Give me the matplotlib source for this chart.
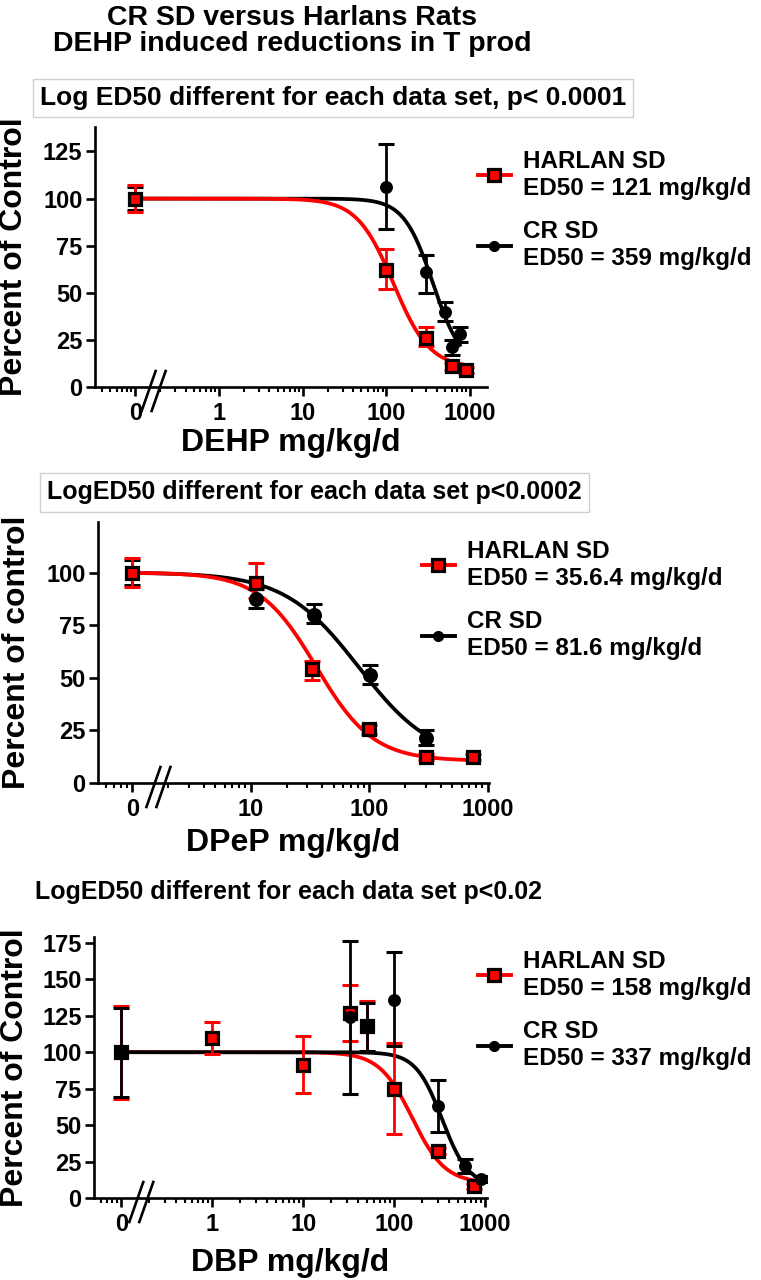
import numpy as np
import matplotlib
matplotlib.use("Agg")
import matplotlib.pyplot as plt
from matplotlib.lines import Line2D
from matplotlib.ticker import LogLocator, NullFormatter, FixedLocator, FixedFormatter

plt.rcParams["font.family"] = ["Liberation Sans", "DejaVu Sans"]
plt.rcParams["font.weight"] = "bold"
plt.rcParams["axes.labelweight"] = "bold"
plt.rcParams["axes.linewidth"] = 1.9

W, H = 761, 1280
NARROW = ["Liberation Sans Narrow", "Liberation Sans", "DejaVu Sans"]

# ---- DEHP ----
dehp_h_dose = [0, 100, 300, 600, 900]
dehp_h_mean = [100, 62, 26, 11, 9]
dehp_h_lo = [93, 52, 22, 9, 7.5]
dehp_h_hi = [107, 73, 32, 13, 10.5]
dehp_c_dose = [0, 100, 300, 500, 600, 750]
dehp_c_mean = [100, 106, 61, 40, 21, 28]
dehp_c_lo = [94, 84, 50, 35, 17, 24]
dehp_c_hi = [106, 129, 70, 45, 25, 32]
dehp_h_fit = [100, 10, 121, 2.0]   # top, bottom, ED50, hill
dehp_c_fit = [100, 10, 359, 2.5]

# ---- DPeP ----
dpep_h_dose = [0, 11, 33, 100, 300, 750]
dpep_h_mean = [100, 95, 54, 25.5, 12.5, 12.5]
dpep_h_lo = [93, 88, 49, 23.5, 11, 11]
dpep_h_hi = [107, 104.5, 58, 27.5, 14, 14]
dpep_c_dose = [0, 11, 34, 102, 300]
dpep_c_mean = [100, 87.5, 80, 51.5, 21.5]
dpep_c_lo = [94, 83, 76, 47, 18]
dpep_c_hi = [106, 92, 85, 56, 25]
dpep_h_fit = [100, 10.5, 35.6, 1.8]
dpep_c_fit = [100, 10, 81.6, 1.38]

# ---- DBP ----
dbp_h_dose = [0, 1, 10, 33, 50, 100, 300, 750]
dbp_h_mean = [100, 110, 91, 127, 118, 75, 32, 8]
dbp_h_lo = [68, 99, 72, 108, 101, 44, 30, 6.5]
dbp_h_hi = [132, 121, 111, 146, 135, 106, 34, 9.5]
dbp_c_dose = [0, 33, 50, 100, 300, 600, 900]
dbp_c_mean = [100, 124, 118, 136, 63, 22, 13]
dbp_c_lo = [69, 71, 101, 104, 45, 17, 11]
dbp_c_hi = [130, 176, 134, 169, 81, 27, 15]
dbp_h_fit = [100, 10, 158, 2.4]
dbp_c_fit = [100, 8, 337, 3.0]


def logistic(x, p):
    top, bottom, ed50, hill = p
    return bottom + (top - bottom) / (1 + (x / ed50) ** hill)


def rect(left, right, top, bottom):
    return [left / W, 1 - bottom / H, (right - left) / W, (bottom - top) / H]


def fx(px):
    return px / W


def fy(py):
    return 1 - py / H


def draw_series(ax, dose, mean, lo, hi, fit, zero_pos, color, marker, ms, xend):
    dose = np.array(dose, float)
    mean = np.array(mean, float)
    xp = np.where(dose == 0, zero_pos, dose)
    xc = np.logspace(np.log10(zero_pos), np.log10(xend), 300)
    ax.plot(xc, logistic(xc, fit), color=color, lw=2.7, zorder=2)
    yerr = [mean - np.array(lo), np.array(hi) - mean]
    ax.errorbar(xp, mean, yerr=yerr, fmt="none", ecolor=color, elinewidth=2.0,
                capsize=6, capthick=2.2, zorder=3)
    ax.plot(xp, mean, ls="none", marker=marker, ms=ms, mfc=color, mec="black",
            mew=2.3, zorder=4)


def style_axis(ax, xlim, ylim, yticks, xticks, zero_pos, axw, axh):
    ax.set_xscale("log")
    ax.set_xlim(xlim)
    ax.set_ylim(ylim)
    ax.spines["top"].set_visible(False)
    ax.spines["right"].set_visible(False)
    ax.set_yticks(yticks)
    ax.xaxis.set_major_locator(FixedLocator([zero_pos] + xticks))
    ax.xaxis.set_major_formatter(FixedFormatter(["0"] + [str(t) for t in xticks]))
    ax.xaxis.set_minor_locator(LogLocator(base=10, subs=np.arange(2, 10), numticks=20))
    ax.xaxis.set_minor_formatter(NullFormatter())
    ax.tick_params(axis="both", which="major", direction="out", length=6.5, width=1.9,
                   labelsize=17, pad=2.5)
    ax.tick_params(axis="x", which="minor", direction="out", length=3.5, width=1.5)
    ax.tick_params(axis="x", which="major", pad=4)
    # axis break marks "//"
    lx0, lx1 = np.log10(xlim[0]), np.log10(xlim[1])
    cx = (np.log10(zero_pos) + 0.22 - lx0) / (lx1 - lx0)
    for off in (-5, 5):
        xs = [cx + (off - 7) / axw, cx + (off + 7) / axw]
        ys = [-24 / axh, 16 / axh]
        ax.plot(xs, ys, color="black", lw=1.9, transform=ax.transAxes, clip_on=False)


def add_legend(ax, labels, x, y, spacing):
    handles = [
        Line2D([], [], color="red", lw=2.8, marker="s", ms=8.5, mfc="red", mec="black", mew=2.3),
        Line2D([], [], color="black", lw=2.8, marker="o", ms=7, mfc="black", mec="black"),
    ]
    ax.legend(handles, labels, loc="upper left", bbox_to_anchor=(fx(x), fy(y)),
              bbox_transform=ax.figure.transFigure, frameon=False, fontsize=17.5,
              borderpad=0, borderaxespad=0, handlelength=1.35, handletextpad=0.5,
              labelspacing=spacing)


fig = plt.figure(figsize=(W / 100, H / 100), dpi=100)

fig.text(fx(292), fy(18), "CR SD versus Harlans Rats", ha="center", va="center",
         fontsize=20.5, family=NARROW, weight="bold")
fig.text(fx(292), fy(44), "DEHP induced reductions in T prod", ha="center", va="center",
         fontsize=20.5, family=NARROW, weight="bold")

# panel 1
r1 = (95, 487, 127, 387)
ax1 = fig.add_axes(rect(*r1))
draw_series(ax1, dehp_c_dose, dehp_c_mean, dehp_c_lo, dehp_c_hi, dehp_c_fit, 0.1, "black", "o", 7, 750)
draw_series(ax1, dehp_h_dose, dehp_h_mean, dehp_h_lo, dehp_h_hi, dehp_h_fit, 0.1, "red", "s", 8.5, 900)
style_axis(ax1, (10 ** -1.48, 10 ** 3.2), (0, 138), [0, 25, 50, 75, 100, 125],
           [1, 10, 100, 1000], 0.1, r1[1] - r1[0], r1[3] - r1[2])
ax1.set_ylabel("Percent of Control", fontsize=23)
ax1.set_xlabel("DEHP mg/kg/d", fontsize=23)
ax1.yaxis.set_label_coords((14 - 95) / 392, 0.5)
ax1.xaxis.set_label_coords(0.5, (387 - 443) / 260)
ax1.xaxis.label.set_va("center")
ax1.yaxis.label.set_va("center")
fig.text(fx(40), fy(98), "Log ED50 different for each data set, p< 0.0001", ha="left",
         va="center", fontsize=19, family=NARROW, weight="bold",
         bbox=dict(boxstyle="square,pad=0.25", fc="white", ec="#d0d0d0", lw=1))
add_legend(ax1, ["HARLAN SD\nED50 = 121 mg/kg/d", "CR SD\nED50 = 359 mg/kg/d"], 478, 150, 0.85)

# panel 2
r2 = (98, 489, 522, 783)
ax2 = fig.add_axes(rect(*r2))
draw_series(ax2, dpep_c_dose, dpep_c_mean, dpep_c_lo, dpep_c_hi, dpep_c_fit, 1, "black", "o", 8.5, 300)
draw_series(ax2, dpep_h_dose, dpep_h_mean, dpep_h_lo, dpep_h_hi, dpep_h_fit, 1, "red", "s", 8.5, 750)
style_axis(ax2, (10 ** -0.29, 10 ** 3.01), (0, 124), [0, 25, 50, 75, 100],
           [10, 100, 1000], 1, r2[1] - r2[0], r2[3] - r2[2])
ax2.set_ylabel("Percent of control", fontsize=23)
ax2.set_xlabel("DPeP mg/kg/d", fontsize=23)
ax2.yaxis.set_label_coords((17 - 98) / 391, 0.5)
ax2.xaxis.set_label_coords(0.5, (783 - 843) / 261)
ax2.xaxis.label.set_va("center")
ax2.yaxis.label.set_va("center")
fig.text(fx(47), fy(492), "LogED50 different for each data set p<0.0002", ha="left",
         va="center", fontsize=18,
         bbox=dict(boxstyle="square,pad=0.3", fc="white", ec="#d0d0d0", lw=1))
add_legend(ax2, ["HARLAN SD\nED50 = 35.6.4 mg/kg/d", "CR SD\nED50 = 81.6 mg/kg/d"], 422, 540, 0.85)

# panel 3
r3 = (94, 487, 937, 1198)
ax3 = fig.add_axes(rect(*r3))
draw_series(ax3, dbp_h_dose, dbp_h_mean, dbp_h_lo, dbp_h_hi, dbp_h_fit, 0.1, "red", "s", 8.5, 750)
draw_series(ax3, dbp_c_dose, dbp_c_mean, dbp_c_lo, dbp_c_hi, dbp_c_fit, 0.1, "black", "o", 7, 900)
style_axis(ax3, (10 ** -1.3, 1050), (0, 179), [0, 25, 50, 75, 100, 125, 150, 175],
           [1, 10, 100, 1000], 0.1, r3[1] - r3[0], r3[3] - r3[2])
ax3.set_ylabel("Percent of Control", fontsize=23)
ax3.set_xlabel("DBP mg/kg/d", fontsize=23)
ax3.yaxis.set_label_coords((15 - 94) / 393, 0.5)
ax3.xaxis.set_label_coords(0.5, (1198 - 1263) / 261)
ax3.xaxis.label.set_va("center")
ax3.yaxis.label.set_va("center")
fig.text(fx(35), fy(892), "LogED50 different for each data set p<0.02", ha="left",
         va="center", fontsize=18)
add_legend(ax3, ["HARLAN SD\nED50 = 158 mg/kg/d", "CR SD\nED50 = 337 mg/kg/d"], 478, 950, 0.85)

fig.savefig("out.png", dpi=100)
